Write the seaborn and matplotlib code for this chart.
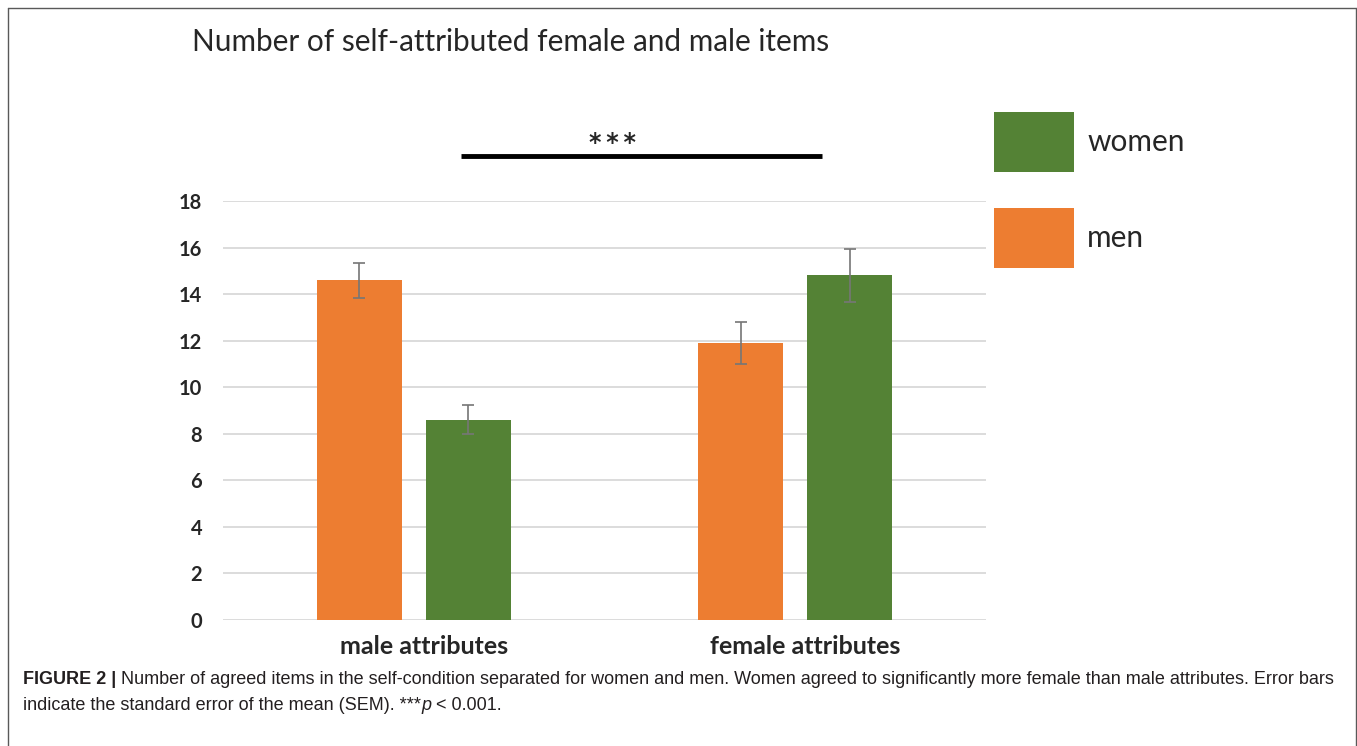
import matplotlib
matplotlib.use("Agg")
import matplotlib.pyplot as plt
import matplotlib.transforms as mtransforms
from matplotlib.patches import Patch
from matplotlib.lines import Line2D
import seaborn as sns
import pandas as pd

# ---- data ----
categories = ["male attributes", "female attributes"]
groups = ["men", "women"]
men_values = [14.6, 11.9]
women_values = [8.6, 14.8]
men_sem = [0.75, 0.90]
women_sem = [0.63, 1.12]
y_ticks = [0, 2, 4, 6, 8, 10, 12, 14, 16, 18]
title_text = "Number of self-attributed female and male items"
sig_text = "*\u2009*\u2009*"

colors = {"men": "#ED7D31", "women": "#548235"}

df = pd.DataFrame({
    "attribute": categories * 2,
    "group": ["men"] * 2 + ["women"] * 2,
    "value": men_values + women_values,
})

sns.set_style("white")
plt.rcParams["font.family"] = ["Lato", "DejaVu Sans"]

W, H = 1357, 746
fig = plt.figure(figsize=(W / 100, H / 100), dpi=100)
ax = fig.add_axes([223 / W, 1 - 620 / H, 763 / W, 419 / H])

sns.barplot(data=df, x="attribute", y="value", hue="group", order=categories,
            hue_order=groups, palette=colors, saturation=1, width=0.572, gap=0.22,
            errorbar=None, legend=False, ax=ax, linewidth=0, zorder=3)

sems = {"men": men_sem, "women": women_sem}
for cont, g in zip(ax.containers, groups):
    xs = [p.get_x() + p.get_width() / 2 for p in cont.patches]
    hs = [p.get_height() for p in cont.patches]
    ax.errorbar(xs, hs, yerr=sems[g], fmt="none", ecolor="#767676",
                elinewidth=1.2, capsize=4, capthick=1.2, zorder=4)

ax.set_xlim(-0.5, 1.5)
ax.set_ylim(0, 18)
ax.set_yticks(y_ticks)
ax.set_yticklabels([str(t) for t in y_ticks], fontsize=14.5, fontweight="bold")

# category labels (drawn slightly right of the bar-group centres, as in the original)
ax.set_xticklabels([])
shift = mtransforms.ScaledTranslation(10 / 100, -15 / 100, fig.dpi_scale_trans)
lab_tr = mtransforms.blended_transform_factory(ax.transData, ax.transAxes) + shift
for i, cat in enumerate(categories):
    ax.text(i, 0, cat, transform=lab_tr, ha="center", va="top",
            fontsize=18, fontweight="bold", color="#262626")

ax.tick_params(axis="y", length=0, pad=15)
ax.tick_params(axis="x", length=0)
ax.set_xlabel("")
ax.set_ylabel("")
ax.yaxis.grid(True, color="#D9D9D9", linewidth=1.3, zorder=0)
ax.set_axisbelow(True)
for s in ax.spines.values():
    s.set_visible(False)

# significance bar
ax.plot([0.124, 1.070], [19.93, 19.93], color="black", linewidth=3.5,
        clip_on=False, solid_capstyle="butt")
ax.text(0.522, 20.2, sig_text, ha="center", va="baseline", fontsize=17,
        fontweight="bold", family=["DejaVu Sans"], clip_on=False)

# title
fig.text(192 / W, 1 - 42 / H, title_text, ha="left", va="center", fontsize=21.4)

# legend
handles = [Patch(facecolor=colors["women"], edgecolor="none"),
           Patch(facecolor=colors["men"], edgecolor="none")]
fig.legend(handles, ["women", "men"], loc="upper left",
           bbox_to_anchor=(994 / W, 1 - 112 / H), bbox_transform=fig.transFigure,
           frameon=False, fontsize=21.5, handlelength=80 / 29.9, handleheight=2.7,
           labelspacing=1.22, handletextpad=0.45, borderpad=0, borderaxespad=0)

# frame
frame_c = "#595959"
fig.add_artist(Line2D([8 / W, 8 / W], [0, 1 - 8 / H], color=frame_c, lw=1))
fig.add_artist(Line2D([8 / W, 1356 / W], [1 - 8 / H, 1 - 8 / H], color=frame_c, lw=1))
fig.add_artist(Line2D([1356 / W, 1356 / W], [0, 1 - 8 / H], color=frame_c, lw=1))

# caption
cap_font = ["Liberation Sans", "DejaVu Sans"]
cap_size = 13.0
fig.canvas.draw()
renderer = fig.canvas.get_renderer()


def put(x_px, y_px, s, **kw):
    t = fig.text(x_px / W, 1 - y_px / H, s, ha="left", va="baseline",
                 fontsize=cap_size, family=cap_font, color="#231F20", **kw)
    bb = t.get_window_extent(renderer=renderer)
    return x_px + bb.width


x = put(23, 684, "FIGURE 2 | ", fontweight="bold")
put(x, 684, "Number of agreed items in the self-condition separated for women and men. "
            "Women agreed to significantly more female than male attributes. Error bars")
x = put(23, 710, "indicate the standard error of the mean (SEM). ***")
x = put(x, 710, "p", style="italic")
put(x, 710, " < 0.001.")

fig.savefig("out.png", dpi=100)
